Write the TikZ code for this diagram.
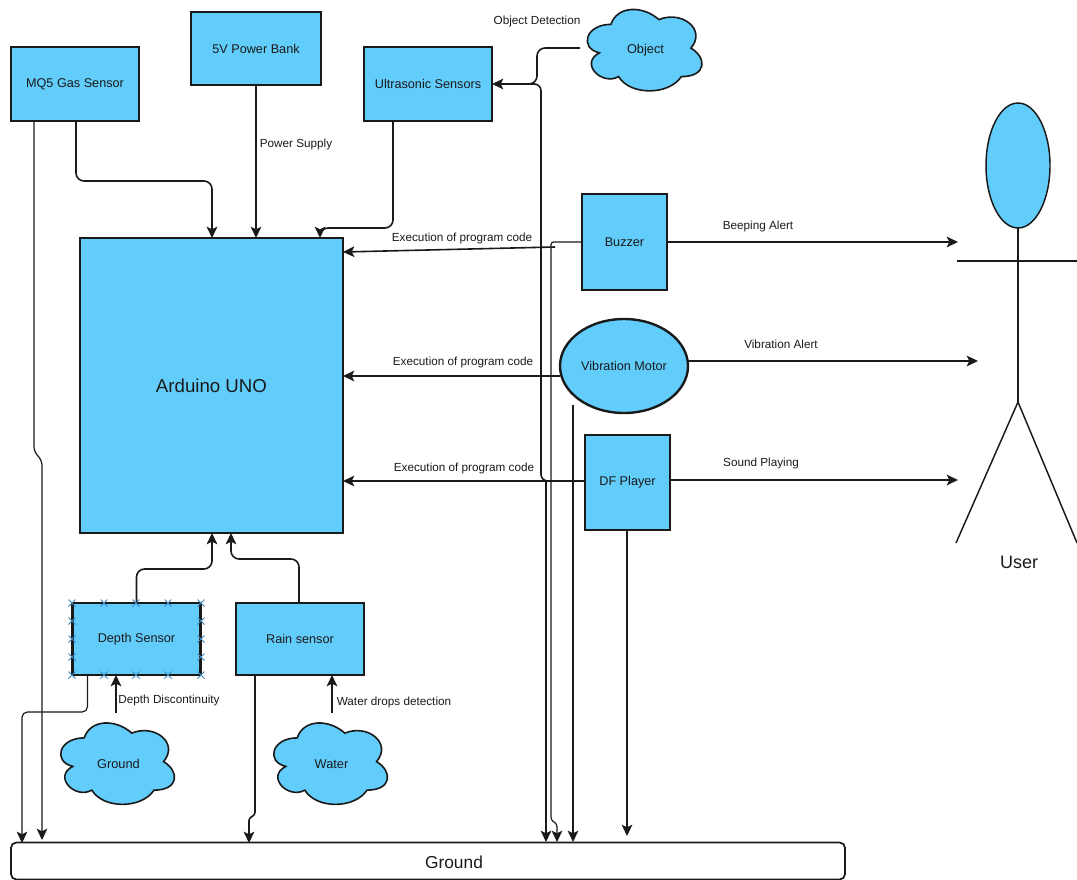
\documentclass[tikz,border=0pt]{standalone}
\usepackage{fontspec}
\setmainfont{Liberation Sans}
\usetikzlibrary{calc,arrows.meta,shapes.geometric}
\definecolor{boxblue}{HTML}{62CCFB}
\definecolor{ink}{HTML}{1A1A1A}
\definecolor{selmark}{HTML}{3C86BE}
\tikzset{
  box/.style={draw=ink,fill=boxblue,line width=1.8pt,anchor=center,inner sep=0pt,outer sep=0pt,font=\fontsize{9.5}{11}\selectfont,text=ink},
  wire/.style={draw=ink,line width=1.2pt,rounded corners=6},
  thinwire/.style={draw=ink,line width=0.9pt,rounded corners=4},
  arr/.style={-{Stealth[length=8.5pt,width=8pt,inset=2pt]}},
  lbl/.style={font=\fontsize{8.8}{10}\selectfont,text=ink,inner sep=0pt},
  cloudpath/.style={draw=ink,fill=boxblue,line width=1.2pt},
  stick/.style={draw=ink,line width=1.1pt},
  selx/.style={draw=selmark,line width=0.7pt}
}
\newcommand{\boxnode}[6]{\node[box,minimum width=#4*0.75pt,minimum height=#5*0.75pt] (#1) at (#2,#3) {#6};}
\newcommand{\cloudnode}[6]{%
  \begin{scope}[shift={(#2-0.52*#4,#3-0.525*#5)},x=#4*0.75pt,y=-#5*0.75pt]
    \draw[cloudpath] (0.25,0.25) .. controls (0.05,0.25) and (0,0.5) .. (0.16,0.55)
      .. controls (0,0.66) and (0.18,0.9) .. (0.31,0.8)
      .. controls (0.4,1) and (0.7,1) .. (0.8,0.8)
      .. controls (1,0.8) and (1,0.6) .. (0.875,0.5)
      .. controls (1,0.3) and (0.8,0.1) .. (0.625,0.2)
      .. controls (0.5,0.05) and (0.3,0.05) .. (0.25,0.25) -- cycle;
  \end{scope}
  \node[font=\fontsize{9.6}{11}\selectfont,text=ink,inner sep=0pt,outer sep=0pt,minimum width=#4*0.6pt,minimum height=#5*0.5pt] (#1) at (#2,#3) {#6};}
\newcommand{\selmark}[2]{\draw[selx] (#1-3.5,#2-3.5) -- (#1+3.5,#2+3.5) (#1-3.5,#2+3.5) -- (#1+3.5,#2-3.5);}
\begin{document}
\begin{tikzpicture}[x=0.75pt,y=-0.75pt]
\useasboundingbox (0,0) rectangle (1077,880);
% ground bar
\node[draw=ink,line width=1.3pt,rounded corners=4,minimum width=834*0.75pt,minimum height=37*0.75pt,inner sep=0pt,outer sep=0pt] (gnd) at (428,861) {};
\node[font=\fontsize{13}{15}\selectfont,text=ink,inner sep=0pt] (gndt) at (454,862) {Ground};
% boxes
\boxnode{mq}{75}{84}{128}{74}{MQ5 Gas Sensor}
\boxnode{pb}{256}{48.5}{130}{73}{5V Power Bank}
\boxnode{us}{428}{84}{128}{74}{Ultrasonic Sensors}
\node[box,minimum width=263*0.75pt,minimum height=295*0.75pt,font=\fontsize{14}{16}\selectfont] (ard) at (211.5,385.5) {Arduino UNO};
\boxnode{bz}{624.5}{242}{85}{96}{Buzzer}
\node[box,ellipse,minimum width=128*0.75pt,minimum height=94*0.75pt] (vm) at (624,366) {Vibration Motor};
\boxnode{df}{627.5}{482.5}{85}{95}{DF Player}
\boxnode{ds}{136.5}{639}{128}{72}{Depth Sensor}
\boxnode{rs}{300}{639}{128}{72}{Rain sensor}
% clouds
\cloudnode{ob}{645.5}{50.5}{128}{95}{Object}
\cloudnode{gc}{118.5}{764}{127}{95}{Ground}
\cloudnode{wc}{331.5}{764}{127}{95}{Water}
% free coordinates
\coordinate (vmfoot) at (573,405);
\coordinate (gdsfoot) at (116,713);
\coordinate (wcfoot) at (332,713);
\coordinate (alertA) at (958,242);
\coordinate (alertB) at (978,361);
\coordinate (alertC) at (958,480);
\coordinate (objwire) at (580,48);
% upper connectors
\draw[wire,arr] ($(mq.south west)+(65,0)$) |- (212,181) -- ($(ard.north west)+(132,0)$);
\draw[thinwire,arr] (pb.south) -- (pb.south |- ard.north);
\draw[wire,arr] ($(us.south west)+(29,0)$) -- (393,228) -- (320,228) -- ($(ard.north west)+(240,0)$);
\draw[wire,arr] (objwire) -- (537,48) -- (537,84) -- (us.east);
\draw[wire,rounded corners=5] ($(us.east)+(30,0)$) -- (541,84) -- (541,481) -- (550,481);
% arduino inputs from output devices
\draw[wire,arr] (555,247) -- ($(ard.north east)+(0,14)$);
\draw[wire,arr] (vm.west |- 0,376) -- (ard.east |- 0,376);
\draw[wire,arr] (df.west |- 0,481) -- (ard.east |- 0,481);
% outputs to user
\draw[wire,arr] (bz.east) -- (alertA);
\draw[wire,arr] (vm.east |- alertB) -- (alertB);
\draw[thinwire,arr] (df.east |- alertC) -- (alertC);
% to ground bar
\draw[thinwire,arr] ($(mq.south west)+(23,0)$) -- (34,452) -- (42,460) -- (42,840);
\draw[thinwire,arr] (546,481) -- (546,842);
\draw[thinwire,rounded corners=2,arr] (bz.west |- 0,242) -- (551,242) -- (551,820) -- (557,824) -- (557,842);
\draw[thinwire,arr] (vmfoot) -- (573,842);
\draw[thinwire,arr] (df.south -| 627,0) -- (627,836);
% lower connectors
\draw[wire,arr] (ds.north) |- (212,569) -- ($(ard.south west)+(132,0)$);
\draw[wire,arr] (rs.north -| 299,0) |- (231,559) -- ($(ard.south west)+(151,0)$);
\draw[wire,arr] (gdsfoot) -- ($(ds.south west)+(43.5,0)$);
\draw[wire,arr] (wcfoot) -- ($(rs.south west)+(96,0)$);
\draw[thinwire,arr] ($(ds.south west)+(15,0)$) |- (22,712) -- (22,843);
\draw[wire,rounded corners=2,arr] ($(rs.south west)+(19,0)$) -- (255,815) -- (249,818) -- (249,843);
% selection marks on depth sensor
\foreach \px in {72,104,136,168,201}{
  \selmark{\px}{603}
  \selmark{\px}{675}
}
\foreach \py in {621,639,657}{
  \selmark{72}{\py}
  \selmark{201}{\py}
}
% user
\node[draw=ink,fill=boxblue,ellipse,line width=1.1pt,minimum width=64*0.75pt,minimum height=125*0.75pt,inner sep=0pt,outer sep=0pt] (head) at (1018,165.5) {};
\coordinate (hip) at (1018,402);
\coordinate (armL) at (957,261);
\coordinate (armR) at (1077,261);
\coordinate (footL) at (956,543);
\coordinate (footR) at (1077,543);
\draw[stick] (head.south) -- (hip);
\draw[stick] (armL) -- (armR);
\draw[stick] (footL) -- (hip) -- (footR);
\node[font=\fontsize{13.5}{15}\selectfont,text=ink,inner sep=0pt] (usr) at (1019,562) {User};
% labels
\node[lbl] (l1) at (537,21) {Object Detection};
\node[lbl] (l2) at (296,144) {Power Supply};
\node[lbl] (l3) at (462,238) {Execution of program code};
\node[lbl] (l4) at (463,362) {Execution of program code};
\node[lbl] (l5) at (464,468) {Execution of program code};
\node[lbl] (l6) at (758,226) {Beeping Alert};
\node[lbl] (l7) at (781,344) {Vibration Alert};
\node[lbl] (l8) at (761,463) {Sound Playing};
\node[lbl] (l9) at (169,700) {Depth Discontinuity};
\node[lbl] (l10) at (394,702) {Water drops detection};
\end{tikzpicture}
\end{document}
